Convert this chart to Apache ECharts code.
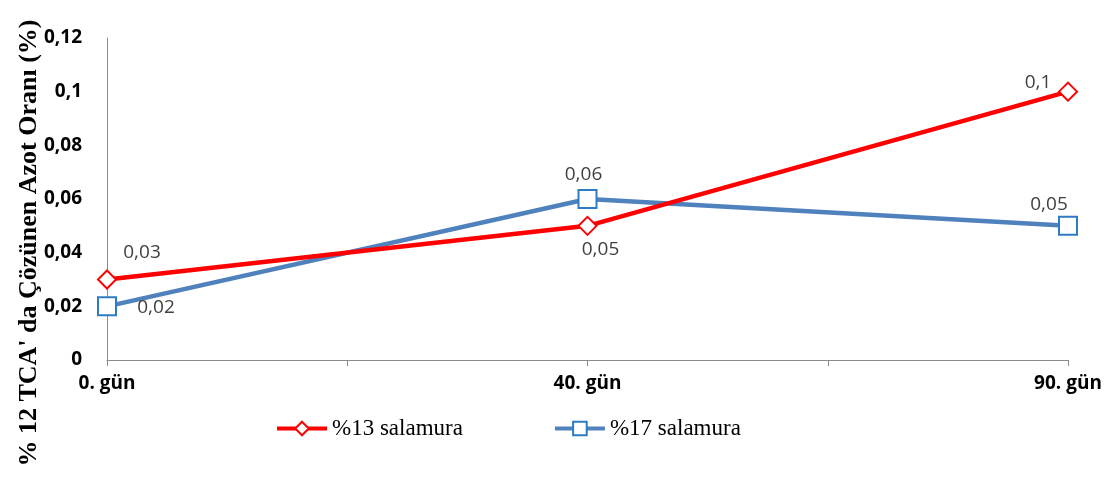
<!DOCTYPE html>
<html>
<head>
<meta charset="utf-8">
<script src="https://cdn.jsdelivr.net/npm/echarts@6/dist/echarts.min.js"></script>
<style>
  html, body { margin: 0; padding: 0; background: #fff; }
  #chart { width: 1113px; height: 479px; }
</style>
</head>
<body>
<div id="chart"></div>
<script>
// Sampling days (empty slots give the in-between tick marks)
const days = ['0. gün', '', '40. gün', '', '90. gün'];
// Soluble nitrogen ratio in 12% TCA (%)
const brine13 = [0.03, null, 0.05, null, 0.1];
const brine17 = [0.02, null, 0.06, null, 0.05];
const seriesNames = ['%13 salamura', '%17 salamura'];
const yTicks = [0, 0.02, 0.04, 0.06, 0.08, 0.1, 0.12];
const yTitle = "% 12 TCA' da Çözünen Azot Oranı (%)";

const fmt = v => String(v).replace('.', ',');

// value label offsets from each marker centre, in px
const off13 = [[35, -27], null, [13, 24], null, [-30, -9]];
const off17 = [[49, 1], null, [-4, -24], null, [-19, -21]];

function build(values, offsets) {
  return values.map((v, i) => {
    if (v === null) return null;
    return { value: v, label: { position: 'inside', offset: offsets[i] } };
  });
}

const chart = echarts.init(document.getElementById('chart'));
const labelStyle = {
  show: true,
  formatter: p => fmt(p.value),
  fontFamily: 'Open Sans',
  fontSize: 19,
  color: '#404040'
};

chart.setOption({
  animation: false,
  grid: { left: 107, right: 45, top: 38, bottom: 119 },
  graphic: [{
    type: 'text',
    x: 29,
    y: 243,
    rotation: Math.PI / 2,
    style: {
      text: yTitle,
      align: 'center',
      verticalAlign: 'middle',
      fontFamily: 'Liberation Serif',
      fontWeight: 'bold',
      fontSize: 26,
      fill: '#000'
    }
  }],
  legend: {
    left: 275,
    top: 417,
    padding: 0,
    itemGap: 90,
    itemWidth: 50,
    itemHeight: 17,
    lineStyle: { width: 4 },
    textStyle: { fontFamily: 'Liberation Serif', fontSize: 23, color: '#000' },
    data: seriesNames
  },
  xAxis: {
    type: 'category',
    data: days,
    boundaryGap: false,
    axisLine: { lineStyle: { color: '#8c8c8c', width: 1 } },
    axisTick: { show: true, length: 6, interval: 0, lineStyle: { color: '#8c8c8c' } },
    axisLabel: {
      interval: 0,
      margin: 14,
      fontFamily: 'Open Sans',
      fontWeight: 'bold',
      fontSize: 19,
      color: '#000'
    }
  },
  yAxis: {
    type: 'value',
    min: 0,
    max: 0.12,
    interval: 0.02,
    axisLine: { show: true, lineStyle: { color: '#8c8c8c', width: 1 } },
    axisTick: { show: false },
    splitLine: { show: false },
    axisLabel: {
      margin: 25,
      fontFamily: 'Open Sans',
      fontWeight: 'bold',
      fontSize: 19,
      color: '#000',
      formatter: v => (yTicks.includes(+v.toFixed(2)) ? fmt(+v.toFixed(2)) : '')
    }
  },
  series: [
    {
      name: seriesNames[0],
      type: 'line',
      connectNulls: true,
      data: build(brine13, off13),
      symbol: 'diamond',
      symbolSize: 18,
      lineStyle: { color: '#FF0000', width: 4.5 },
      itemStyle: { color: '#fff', borderColor: '#FF0000', borderWidth: 2 },
      label: labelStyle,
      z: 3
    },
    {
      name: seriesNames[1],
      type: 'line',
      connectNulls: true,
      data: build(brine17, off17),
      symbol: 'rect',
      symbolSize: 18,
      lineStyle: { color: '#4F81BD', width: 4.5 },
      itemStyle: { color: '#fff', borderColor: '#2E7BC4', borderWidth: 2 },
      label: labelStyle,
      z: 2
    }
  ]
});
</script>
</body>
</html>
